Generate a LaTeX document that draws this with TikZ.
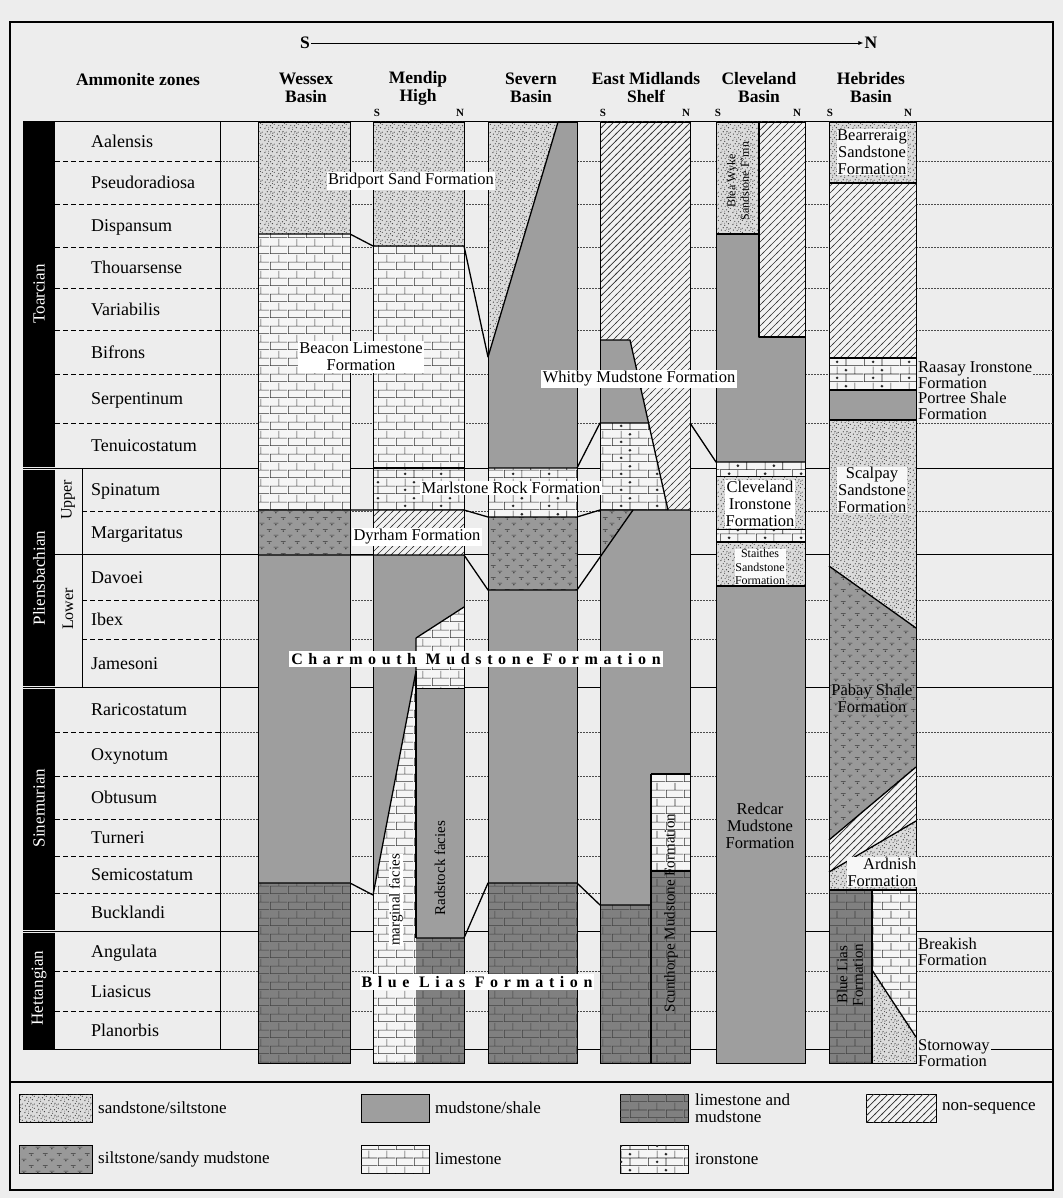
\documentclass[tikz,border=0pt]{standalone}
\usepackage{fontspec}
\setmainfont{Liberation Serif}
\newfontfamily\spaced[LetterSpace=35]{Liberation Serif}
\usetikzlibrary{patterns,arrows.meta}

\pgfdeclarepatternformonly{brk}{\pgfqpoint{0pt}{0pt}}{\pgfqpoint{18pt}{16pt}}{\pgfqpoint{18pt}{16pt}}{%
  \pgfsetlinewidth{0.6pt}%
  \pgfpathmoveto{\pgfqpoint{0pt}{0.3pt}}\pgfpathlineto{\pgfqpoint{18pt}{0.3pt}}%
  \pgfpathmoveto{\pgfqpoint{0pt}{8.3pt}}\pgfpathlineto{\pgfqpoint{18pt}{8.3pt}}%
  \pgfpathmoveto{\pgfqpoint{0.3pt}{0.3pt}}\pgfpathlineto{\pgfqpoint{0.3pt}{8.3pt}}%
  \pgfpathmoveto{\pgfqpoint{9.3pt}{8.3pt}}\pgfpathlineto{\pgfqpoint{9.3pt}{16pt}}%
  \pgfusepath{stroke}}

\pgfdeclarepatternformonly{ironp}{\pgfqpoint{0pt}{0pt}}{\pgfqpoint{36pt}{16pt}}{\pgfqpoint{36pt}{16pt}}{%
  \pgfsetlinewidth{0.6pt}%
  \pgfpathmoveto{\pgfqpoint{0pt}{0.3pt}}\pgfpathlineto{\pgfqpoint{36pt}{0.3pt}}%
  \pgfpathmoveto{\pgfqpoint{0pt}{8.3pt}}\pgfpathlineto{\pgfqpoint{36pt}{8.3pt}}%
  \pgfpathmoveto{\pgfqpoint{0.3pt}{0.3pt}}\pgfpathlineto{\pgfqpoint{0.3pt}{8.3pt}}%
  \pgfpathmoveto{\pgfqpoint{18.3pt}{0.3pt}}\pgfpathlineto{\pgfqpoint{18.3pt}{8.3pt}}%
  \pgfpathmoveto{\pgfqpoint{9.3pt}{8.3pt}}\pgfpathlineto{\pgfqpoint{9.3pt}{16pt}}%
  \pgfpathmoveto{\pgfqpoint{27.3pt}{8.3pt}}\pgfpathlineto{\pgfqpoint{27.3pt}{16pt}}%
  \pgfusepath{stroke}%
  \pgfpathcircle{\pgfqpoint{9.3pt}{4.3pt}}{1.5pt}%
  \pgfpathcircle{\pgfqpoint{18.3pt}{12.3pt}}{1.5pt}%
  \pgfusepath{fill}}

\pgfdeclarepatternformonly{ns}{\pgfqpoint{-1pt}{-1pt}}{\pgfqpoint{8pt}{8pt}}{\pgfqpoint{7pt}{7pt}}{%
  \pgfsetlinewidth{0.7pt}%
  \pgfpathmoveto{\pgfqpoint{-1pt}{-1pt}}\pgfpathlineto{\pgfqpoint{8pt}{8pt}}%
  \pgfusepath{stroke}}

\pgfdeclarepatternformonly{sandp}{\pgfqpoint{0pt}{0pt}}{\pgfqpoint{12pt}{12pt}}{\pgfqpoint{12pt}{12pt}}{%
  \pgfpathcircle{\pgfqpoint{1pt}{1.5pt}}{0.65pt}%
  \pgfpathcircle{\pgfqpoint{5pt}{0.8pt}}{0.6pt}%
  \pgfpathcircle{\pgfqpoint{9pt}{2.5pt}}{0.7pt}%
  \pgfpathcircle{\pgfqpoint{3pt}{5pt}}{0.6pt}%
  \pgfpathcircle{\pgfqpoint{7pt}{4.5pt}}{0.65pt}%
  \pgfpathcircle{\pgfqpoint{11pt}{6pt}}{0.6pt}%
  \pgfpathcircle{\pgfqpoint{1.5pt}{8.5pt}}{0.7pt}%
  \pgfpathcircle{\pgfqpoint{5.5pt}{8pt}}{0.6pt}%
  \pgfpathcircle{\pgfqpoint{9.5pt}{9.5pt}}{0.65pt}%
  \pgfpathcircle{\pgfqpoint{3.5pt}{11pt}}{0.6pt}%
  \pgfpathcircle{\pgfqpoint{7.5pt}{11.3pt}}{0.6pt}%
  \pgfpathcircle{\pgfqpoint{11pt}{10.5pt}}{0.55pt}%
  \pgfpathcircle{\pgfqpoint{5pt}{3pt}}{0.45pt}%
  \pgfpathcircle{\pgfqpoint{9pt}{7pt}}{0.45pt}%
  \pgfpathcircle{\pgfqpoint{2pt}{3.2pt}}{0.4pt}%
  \pgfpathcircle{\pgfqpoint{7pt}{9.6pt}}{0.4pt}%
  \pgfusepath{fill}}

\pgfdeclarepatternformonly{siltp}{\pgfqpoint{0pt}{0pt}}{\pgfqpoint{14pt}{12pt}}{\pgfqpoint{14pt}{12pt}}{%
  \pgfsetlinewidth{0.6pt}%
  \pgfpathmoveto{\pgfqpoint{1pt}{9pt}}\pgfpathlineto{\pgfqpoint{6pt}{9pt}}%
  \pgfpathmoveto{\pgfqpoint{8pt}{3pt}}\pgfpathlineto{\pgfqpoint{13pt}{3pt}}%
  \pgfusepath{stroke}%
  \pgfpathcircle{\pgfqpoint{3.5pt}{7.3pt}}{0.8pt}%
  \pgfpathcircle{\pgfqpoint{10.5pt}{1.3pt}}{0.8pt}%
  \pgfusepath{fill}}

\tikzset{
  pSand/.style={fill=black!14, postaction={pattern=sandp, pattern color=black!78}},
  pMud/.style={fill=black!38},
  pLM/.style={fill=black!50, postaction={pattern=brk, pattern color=black!75}},
  pNS/.style={fill=black!5, postaction={pattern=ns, pattern color=black!80}},
  pSilt/.style={fill=black!40, postaction={pattern=siltp, pattern color=black!80}},
  pLime/.style={fill=black!4, postaction={pattern=brk, pattern color=black!80}},
  pIron/.style={fill=black!4, postaction={pattern=ironp, pattern color=black!85}},
  bnd/.style={line width=1.3pt, line join=round},
  colbox/.style={draw, line width=0.8pt},
  zdash/.style={line width=0.8pt, dash pattern=on 5pt off 3pt},
  gdot/.style={line width=0.6pt, black!70, dash pattern=on 1.5pt off 1.5pt},
  solidrow/.style={line width=1pt},
  zn/.style={anchor=west, inner sep=0pt, text height=13pt, text depth=1pt, font=\fontsize{18}{20}\selectfont},
  hdr/.style={align=center, inner sep=1pt, font=\bfseries\fontsize{17.5}{18}\selectfont},
  sn/.style={inner sep=0pt, font=\bfseries\fontsize{11}{12}\selectfont},
  stg/.style={rotate=90, text=white, inner sep=0pt, font=\fontsize{17}{18}\selectfont},
  lab/.style={fill=white, inner sep=1.5pt, align=center, font=\fontsize{16.5}{17}\selectfont},
  labn/.style={inner sep=1pt, align=center, font=\fontsize{16.5}{17}\selectfont},
  sml/.style={inner sep=1pt, align=center, font=\fontsize{12}{13.5}\selectfont},
  side/.style={inner sep=1pt, align=left, anchor=west, fill=black!7, font=\fontsize{16.5}{16}\selectfont},
  wide/.style={fill=white, inner sep=2pt, font=\spaced\bfseries\fontsize{16}{17}\selectfont},
  leg/.style={anchor=west, inner sep=0pt, align=left, font=\fontsize{17}{17}\selectfont},
  sw/.style={draw, line width=0.8pt}
}

\begin{document}
\begin{tikzpicture}[x=1pt,y=-1pt]
\useasboundingbox (0,0) rectangle (1063,1198);
\fill[black!7] (0,0) rectangle (1063,1198);

% ---------- frame ----------
\draw[line width=1.6pt] (10,22) rectangle (1053,1190);
\draw[line width=1.4pt] (10,1082) -- (1053,1082);

% ---------- header ----------
\node[hdr] (hS) at (305,43) {S};
\node[hdr] (hN) at (871,43) {N};
\draw[line width=0.9pt,-{Latex[length=5pt,width=4pt]}] (hS.east) -- (hN.west);

\node[hdr] (tA) at (138,80) {Ammonite zones};
\node[hdr] (tW) at (306,88) {Wessex\\Basin};
\node[hdr] (tM) at (418,88) {Mendip\\High};
\node[hdr] (tS) at (531,88) {Severn\\Basin};
\node[hdr] (tE) at (646,88) {East Midlands\\Shelf};
\node[hdr] (tC) at (759,88) {Cleveland\\Basin};
\node[hdr] (tH) at (871,88) {Hebrides\\Basin};

\node[sn] (mS) at (377,113) {S};
\node[sn] (mN) at (460,113) {N};
\node[sn] (eS) at (603,113) {S};
\node[sn] (eN) at (686,113) {N};
\node[sn] (cS) at (718,113) {S};
\node[sn] (cN) at (797,113) {N};
\node[sn] (bS) at (830,113) {S};
\node[sn] (bN) at (908,113) {N};

% ---------- row lines ----------
\foreach \y in {161,204,247,288,330,374,423,732,776,819,856,893,971,1011}{
  \draw[zdash] (55,\y) -- (220,\y);
  \draw[gdot] (220,\y) -- (1053,\y);
}
\foreach \y in {511,600,639}{
  \draw[zdash] (82,\y) -- (220,\y);
  \draw[gdot] (220,\y) -- (1053,\y);
}
\foreach \y in {122,468,687,931,1049}{
  \draw[solidrow] (23,\y) -- (1053,\y);
}
\draw[solidrow] (55,554) -- (1053,554);
\draw[line width=1pt] (220,122) -- (220,1049);
\draw[line width=1pt] (82,468) -- (82,687);

% ---------- stage bars ----------
\fill[black] (23,122) rectangle (55,466.5);
\fill[black] (23,469.5) rectangle (55,685.5);
\fill[black] (23,688.5) rectangle (55,929.5);
\fill[black] (23,932.5) rectangle (55,1049);
\node[stg] (sT) at (39,294) {Toarcian};
\node[stg] (sP) at (39,578) {Pliensbachian};
\node[stg] (sSi) at (39,808) {Sinemurian};
\node[stg] (sH) at (39,988) {Hettangian};
\node[rotate=90, inner sep=0pt, font=\fontsize{16}{17}\selectfont] (sU) at (68,500) {Upper};
\node[rotate=90, inner sep=0pt, font=\fontsize{16}{17}\selectfont] (sL) at (68,609) {Lower};

% ---------- zone names ----------
\foreach \n/\y [count=\i] in {Aalensis/141.5, Pseudoradiosa/182.5, Dispansum/225.5,
  Thouarsense/267.5, Variabilis/309, Bifrons/352, Serpentinum/398.5, Tenuicostatum/445.5,
  Spinatum/489.5, Margaritatus/532.5, Davoei/577, Ibex/619.5, Jamesoni/663,
  Raricostatum/709.5, Oxynotum/754, Obtusum/797.5, Turneri/837.5, Semicostatum/874.5,
  Bucklandi/912, Angulata/951, Liasicus/991, Planorbis/1030}{
  \node[zn] (z\i) at (91,\y) {\n};
}

% ---------- Wessex Basin ----------
\fill[pSand] (258,122) rectangle (350,234);
\fill[pLime] (258,234) rectangle (350,510);
\fill[pSilt] (258,510) rectangle (350,555);
\fill[pMud] (258,555) rectangle (350,883);
\fill[pLM] (258,883) rectangle (350,1063);

% ---------- Mendip High ----------
\fill[pSand] (373,122) rectangle (464,246);
\fill[pLime] (373,246) rectangle (464,468);
\fill[pIron] (373,468) rectangle (464,510);
\fill[pNS] (373,510) rectangle (464,555);
\fill[pMud] (373,555) rectangle (464,1063);
\fill[pLime] (416,638) -- (464,607) -- (464,688) -- (416,688) -- (416,1063) -- (373,1063) -- (373,895) -- (416,671) -- cycle;
\fill[pLM] (416,938) rectangle (464,1063);

% ---------- Severn Basin ----------
\fill[pMud] (488,122) rectangle (577,468);
\fill[pSand] (488,122) -- (558,122) -- (488,357) -- cycle;
\fill[pIron] (488,468) rectangle (577,517);
\fill[pSilt] (488,517) rectangle (577,590);
\fill[pMud] (488,590) rectangle (577,883);
\fill[pLM] (488,883) rectangle (577,1063);

% ---------- East Midlands Shelf ----------
\fill[pNS] (600,122) rectangle (690,510);
\fill[pMud] (600,340) -- (630,340) -- (648,423) -- (600,423) -- cycle;
\fill[pIron] (600,423) -- (648,423) -- (668,510) -- (600,510) -- cycle;
\fill[pMud] (600,510) rectangle (690,905);
\fill[pSilt] (600,510) -- (633,510) -- (600,557) -- cycle;
\fill[pLime] (651,774) rectangle (690,871);
\fill[pLM] (600,905) rectangle (651,1063);
\fill[pLM] (651,871) rectangle (690,1063);

% ---------- Cleveland Basin ----------
\fill[pSand] (716,122) rectangle (759,234);
\fill[pNS] (759,122) rectangle (805,337);
\fill[pMud] (716,234) -- (759,234) -- (759,337) -- (805,337) -- (805,462) -- (716,462) -- cycle;
\fill[pIron] (716,462) rectangle (805,476);
\fill[pSand] (716,476) rectangle (805,529);
\fill[pIron] (716,529) rectangle (805,542);
\fill[pSand] (716,542) rectangle (805,586);
\fill[pMud] (716,586) rectangle (805,1063);

% ---------- Hebrides Basin ----------
\fill[pSand] (829,122) rectangle (916,183);
\fill[pNS] (829,183) rectangle (916,358);
\fill[pIron] (829,358) rectangle (916,390);
\fill[pMud] (829,390) rectangle (916,420);
\fill[pSand] (829,420) -- (916,420) -- (916,628) -- (829,566) -- cycle;
\fill[pSilt] (829,566) -- (916,628) -- (916,767) -- (829,840) -- cycle;
\fill[pNS] (829,840) -- (916,767) -- (916,821) -- (829,872) -- cycle;
\fill[pSand] (829,872) -- (916,821) -- (916,890) -- (829,890) -- cycle;
\fill[pLM] (829,890) rectangle (872,1063);
\fill[pLime] (872,890) -- (916,890) -- (916,1037) -- (872,970) -- cycle;
\fill[pSand] (872,970) -- (916,1037) -- (916,1063) -- (872,1063) -- cycle;

% ---------- facies boundaries ----------
\draw[bnd] (258,234) -- (350,234) -- (373,246) -- (464,246) -- (488,357) -- (558,122);
\draw[bnd] (258,510) -- (464,510) -- (488,517) -- (577,517) -- (600,510) -- (690,510);
\draw[bnd] (258,555) -- (464,555) -- (488,590) -- (577,590) -- (633,510);
\draw[bnd] (373,468) -- (464,468);
\draw[bnd] (488,468) -- (577,468) -- (600,423) -- (648,423);
\draw[bnd] (600,340) -- (630,340) -- (668,510);
\draw[bnd] (690,423) -- (716,462) -- (805,462);
\draw[bnd] (416,638) -- (464,607);
\draw[bnd] (416,638) -- (416,671) -- (373,895);
\draw[bnd] (416,671) -- (416,938);
\draw[line width=0.8pt] (416,688) -- (464,688);
\draw[bnd] (258,883) -- (350,883) -- (373,895);
\draw[bnd] (416,938) -- (464,938) -- (488,883) -- (577,883) -- (600,905) -- (651,905);
\draw[bnd] (651,774) -- (690,774);
\draw[bnd] (651,774) -- (651,1063);
\draw[bnd] (651,871) -- (690,871);
\draw[bnd] (716,234) -- (759,234);
\draw[bnd] (759,122) -- (759,337) -- (805,337);
\draw[line width=0.8pt] (716,476) -- (805,476);
\draw[line width=0.8pt] (716,529) -- (805,529);
\draw[bnd] (716,542) -- (805,542);
\draw[bnd] (716,586) -- (805,586);
\draw[bnd] (829,183) -- (916,183);
\draw[bnd] (829,358) -- (916,358);
\draw[bnd] (829,390) -- (916,390);
\draw[bnd] (829,420) -- (916,420);
\draw[bnd] (829,566) -- (916,628);
\draw[bnd] (829,840) -- (916,767);
\draw[bnd] (829,872) -- (916,821);
\draw[bnd] (829,890) -- (916,890);
\draw[bnd] (872,890) -- (872,1063);
\draw[bnd] (872,970) -- (916,1037);

% ---------- column outlines ----------
\draw[colbox] (258,122) rectangle (350,1063);
\draw[colbox] (373,122) rectangle (464,1063);
\draw[colbox] (488,122) rectangle (577,1063);
\draw[colbox] (600,122) rectangle (690,1063);
\draw[colbox] (716,122) rectangle (805,1063);
\draw[colbox] (829,122) rectangle (916,1063);

% ---------- formation labels ----------
\node[lab] (fBr) at (411,181) {Bridport Sand Formation};
\node[lab] (fBe) at (361,357) {Beacon Limestone\\Formation};
\node[lab] (fWh) at (639,379) {Whitby Mudstone Formation};
\node[lab] (fMa) at (511,488) {Marlstone Rock Formation};
\node[lab] (fDy) at (417,537) {Dyrham Formation};
\node[wide] (fCh) at (476,659) {Charmouth\hspace{0.6em}Mudstone\hspace{0.6em}Formation};
\node[wide] (fBL) at (477,982) {Blue\hspace{0.6em}Lias\hspace{0.6em}Formation};
\node[labn, rotate=90, fill=white, inner sep=0.5pt, font=\fontsize{15}{16}\selectfont] (fMg) at (396,900) {marginal facies};
\node[labn, rotate=90, font=\fontsize{15}{16}\selectfont] (fRa) at (440,868) {Radstock facies};
\node[labn, rotate=90, font=\fontsize{15}{16}\selectfont] (fSc) at (671,913) {Scunthorpe Mudstone Formation};
\node[sml, rotate=90] (fBW) at (738,181) {Blea Wyke\\Sandstone F'mn};
\node[lab, fill=white, inner sep=1pt] (fCl) at (760,504) {Cleveland\\Ironstone\\Formation};
\node[sml, fill=white!80!black!10, inner sep=0.5pt] (fSt) at (760,567) {Staithes\\Sandstone\\Formation};
\node[labn] (fRe) at (760,826) {Redcar\\Mudstone\\Formation};
\node[labn, fill=white!70!black!10, inner sep=0.5pt] (fBe2) at (872,152) {Bearreraig\\Sandstone\\Formation};
\node[side] (fRs) at (917,375) {Raasay Ironstone\\Formation};
\node[side] (fPo) at (917,406) {Portree Shale\\Formation};
\node[labn, fill=white!70!black!10, inner sep=0.5pt] (fSp) at (872,490) {Scalpay\\Sandstone\\Formation};
\node[labn] (fPa) at (872,698) {Pabay Shale\\Formation};
\node[labn, anchor=east, align=right, fill=white!70!black!10, inner sep=0.5pt] (fAr) at (917,872) {Ardnish\\Formation};
\node[side] (fBk) at (917,952) {Breakish\\Formation};
\node[side] (fSo) at (917,1053) {Stornoway\\Formation};
\node[labn, rotate=90, font=\fontsize{15}{15.5}\selectfont] (fBL2) at (850,975) {Blue Lias\\Formation};

% ---------- legend ----------
\draw[sw, pSand] (19,1094) rectangle (92,1122);
\node[leg] (l1) at (98,1108) {sandstone/siltstone};
\draw[sw, pMud] (361,1094) rectangle (429,1122);
\node[leg] (l2) at (435,1108) {mudstone/shale};
\draw[sw, pLM] (620,1094) rectangle (688,1122);
\node[leg] (l3) at (695,1108) {limestone and\\mudstone};
\draw[sw, pNS] (866,1094) rectangle (936,1122);
\node[leg] (l4) at (942,1108) {non-sequence};
\draw[sw, pSilt] (19,1145) rectangle (92,1173);
\node[leg] (l5) at (98,1159) {siltstone/sandy mudstone};
\draw[sw, pLime] (361,1145) rectangle (429,1173);
\node[leg] (l6) at (435,1159) {limestone};
\draw[sw, pIron] (620,1145) rectangle (688,1173);
\node[leg] (l7) at (695,1159) {ironstone};
\end{tikzpicture}
\end{document}
